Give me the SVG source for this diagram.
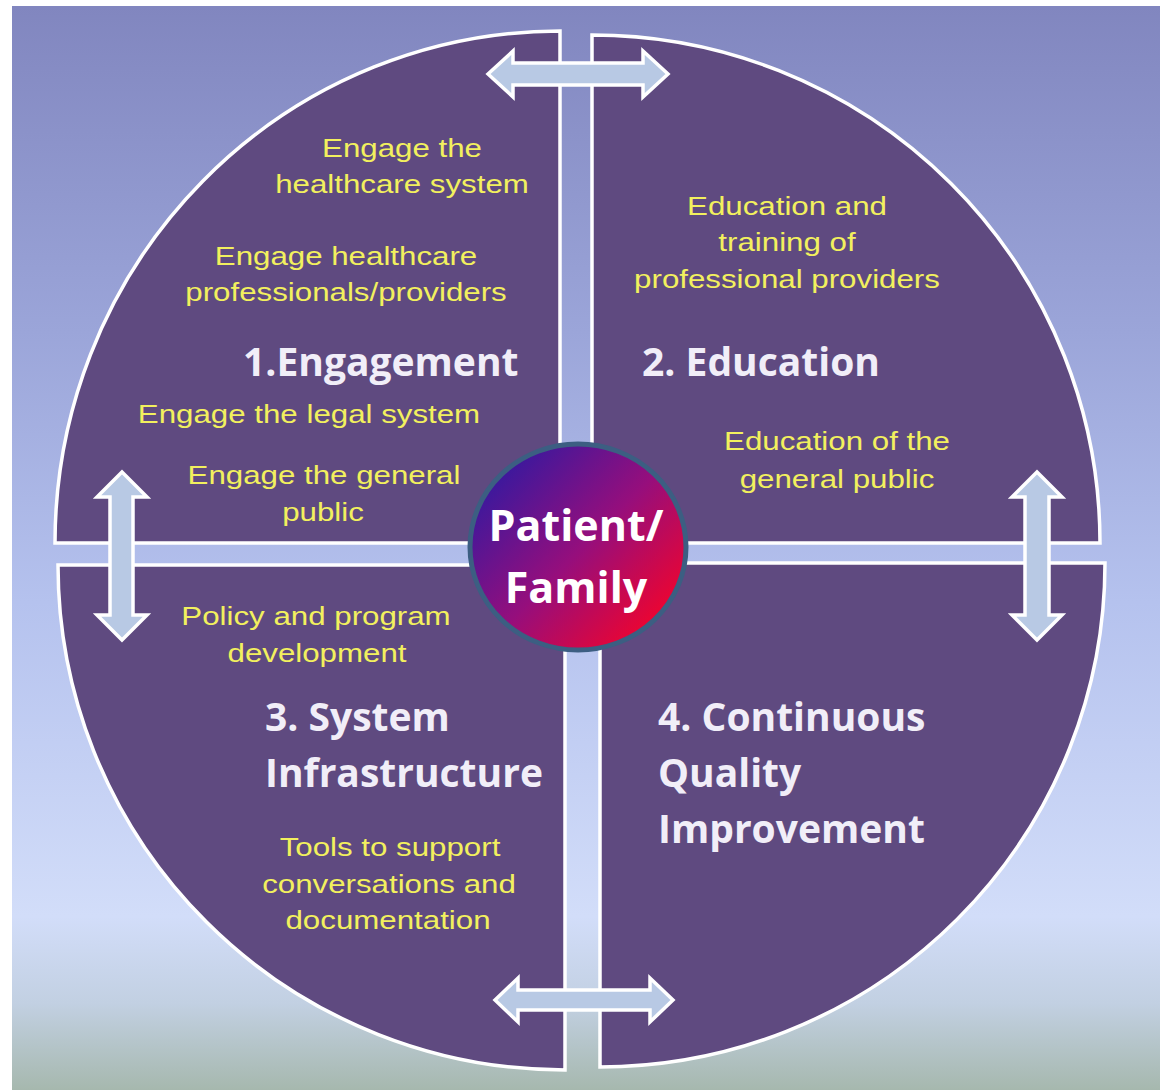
<svg xmlns="http://www.w3.org/2000/svg" width="1160" height="1090" viewBox="0 0 1160 1090">
<defs>
<linearGradient id="bg" x1="0" y1="0" x2="0" y2="1">
<stop offset="0" stop-color="#8186bf"/>
<stop offset="0.3" stop-color="#9ba5d9"/>
<stop offset="0.55" stop-color="#b5c2ee"/>
<stop offset="0.84" stop-color="#d2ddf9"/>
<stop offset="0.92" stop-color="#c2d0e2"/>
<stop offset="1" stop-color="#a6b8ae"/>
</linearGradient>
<linearGradient id="hub" x1="0.15" y1="0.15" x2="0.9" y2="0.85">
<stop offset="0" stop-color="#3e189c"/>
<stop offset="0.5" stop-color="#960e7c"/>
<stop offset="1" stop-color="#f0042e"/>
</linearGradient>
<style>
.q{fill:#5f4a80;stroke:#ffffff;stroke-width:3.5}
.arr{fill:#b8c9e4;stroke:#ffffff;stroke-width:3.5;stroke-linejoin:miter}
.y{font-family:"Liberation Sans",Arial,sans-serif;font-size:26.5px;fill:#f2f05e;text-anchor:middle}
.t{font-family:"Open Sans","Liberation Sans",sans-serif;font-weight:bold;font-size:39px;fill:#f1eef8}
.hubt{font-family:"Open Sans","Liberation Sans",sans-serif;font-weight:bold;font-size:43px;fill:#ffffff;text-anchor:middle}
</style>
</defs>
<rect x="12" y="6" width="1148" height="1084" fill="url(#bg)"/>

<g id="q1-engagement">
<path class="q" d="M560,543 L560,31 A505,512 0 0 0 55,543 Z"/>
<text class="y" transform="translate(402,157) scale(1.18,1)">Engage the</text>
<text class="y" transform="translate(402,193) scale(1.18,1)">healthcare system</text>
<text class="y" transform="translate(346,265) scale(1.18,1)">Engage healthcare</text>
<text class="y" transform="translate(346,301) scale(1.18,1)">professionals/providers</text>
<text class="t" x="243" y="376">1.Engagement</text>
<text class="y" transform="translate(309,423) scale(1.18,1)">Engage the legal system</text>
<text class="y" transform="translate(324,484) scale(1.18,1)">Engage the general</text>
<text class="y" transform="translate(323,521) scale(1.18,1)">public</text>
</g>

<g id="q2-education">
<path class="q" d="M592,543 L592,35 A508,508 0 0 1 1100,543 Z"/>
<text class="y" transform="translate(787,215) scale(1.18,1)">Education and</text>
<text class="y" transform="translate(787,251) scale(1.18,1)">training of</text>
<text class="y" transform="translate(787,288) scale(1.18,1)">professional providers</text>
<text class="t" x="642" y="376">2. Education</text>
<text class="y" transform="translate(837,450) scale(1.18,1)">Education of the</text>
<text class="y" transform="translate(837,488) scale(1.18,1)">general public</text>
</g>

<g id="q3-system-infrastructure">
<path class="q" d="M565,565 L58,565 A507,505 0 0 0 565,1070 Z"/>
<text class="y" transform="translate(316,625) scale(1.18,1)">Policy and program</text>
<text class="y" transform="translate(317,662) scale(1.18,1)">development</text>
<text class="t" x="265" y="731">3. System</text>
<text class="t" x="265" y="787">Infrastructure</text>
<text class="y" transform="translate(390,856) scale(1.18,1)">Tools to support</text>
<text class="y" transform="translate(389,893) scale(1.18,1)">conversations and</text>
<text class="y" transform="translate(388,929) scale(1.18,1)">documentation</text>
</g>

<g id="q4-quality-improvement">
<path class="q" d="M600,563 L1105,563 A505,504 0 0 1 600,1067 Z"/>
<text class="t" x="658" y="731">4. Continuous</text>
<text class="t" x="658" y="787">Quality</text>
<text class="t" x="658" y="843">Improvement</text>
</g>

<g id="connectors">
<polygon class="arr" points="488,74 513,51 513,63 643,63 643,51 668,74 643,97 643,85 513,85 513,97"/>
<polygon class="arr" points="495,1000 518,978 518,990 650,990 650,978 673,1000 650,1022 650,1010 518,1010 518,1022"/>
<polygon class="arr" points="122,472 147,497 133,497 133,615 147,615 122,640 97,615 110,615 110,497 97,497"/>
<polygon class="arr" points="1037,472 1062,497 1049,497 1049,615 1062,615 1037,640 1012,615 1025,615 1025,497 1012,497"/>
</g>

<g id="hub-patient-family">
<ellipse cx="578" cy="547" rx="108" ry="103" fill="url(#hub)" stroke="#3c5e82" stroke-width="5"/>
<text class="hubt" x="576" y="541">Patient/</text>
<text class="hubt" x="576" y="603">Family</text>
</g>
</svg>
